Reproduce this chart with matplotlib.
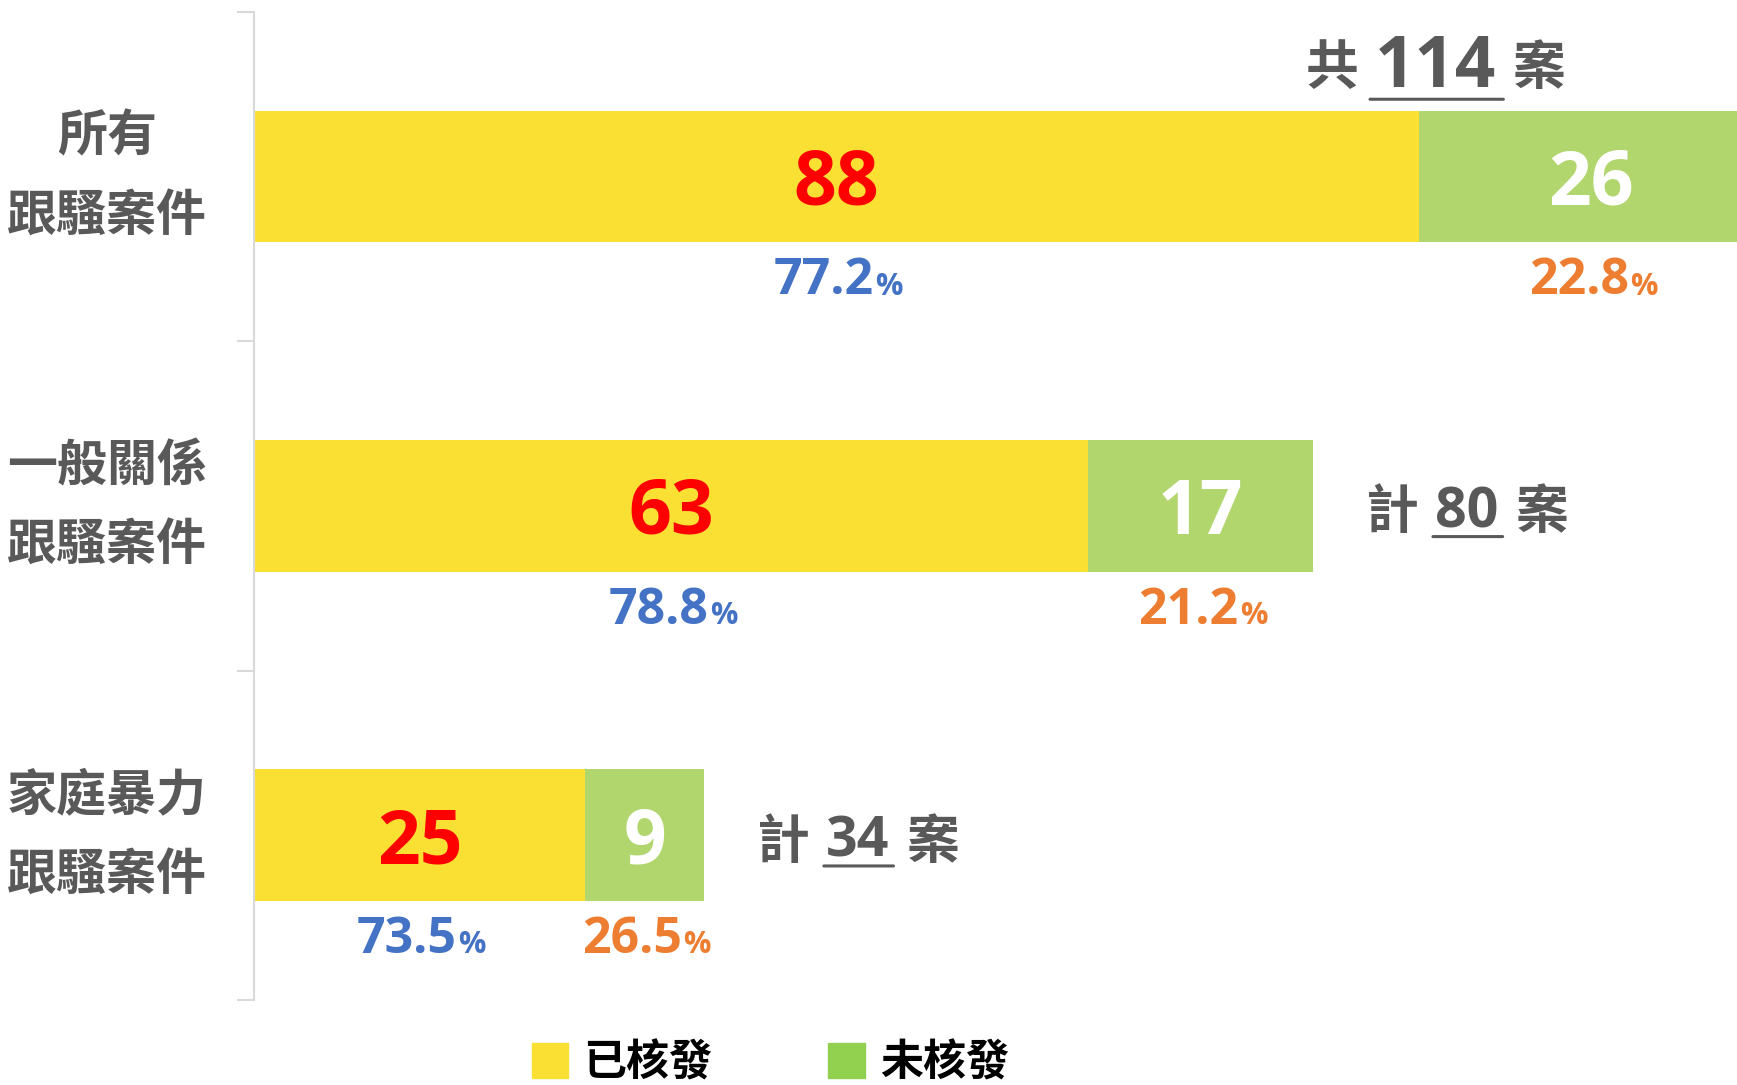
import matplotlib.pyplot as plt
from matplotlib.patches import Patch

categories = ['所有\n跟騷案件', '一般關係\n跟騷案件', '家庭暴力\n跟騷案件']
series_names = ['已核發', '未核發']
issued = [88, 63, 25]
not_issued = [26, 17, 9]
issued_pct = ['77.2', '78.8', '73.5']
not_issued_pct = ['22.8', '21.2', '26.5']
count_prefix = ['共', '計', '計']
totals = [a + b for a, b in zip(issued, not_issued)]

yellow = '#F9E033'
green = '#B2D66E'
legend_green = '#92D050'
grey = '#595959'
line_grey = '#D9D9D9'
cjk = ['Noto Sans CJK TC', 'DejaVu Sans']
num = ['Open Sans', 'Noto Sans CJK TC', 'DejaVu Sans']

plt.rcParams['font.family'] = cjk

fig = plt.figure(figsize=(17.37, 10.85), dpi=100)
ax = fig.add_axes([0.1462, 0.0783, 0.8538, 0.9107])

y = list(range(len(categories)))
ax.barh(y, issued, height=0.4, color=yellow)
ax.barh(y, not_issued, left=issued, height=0.4, color=green)

ax.set_xlim(0, 112)
ax.set_ylim(len(categories) - 0.5, -0.5)
ax.set_xticks([])
for s in ['top', 'right', 'bottom']:
    ax.spines[s].set_visible(False)
ax.spines['left'].set_color(line_grey)
ax.spines['left'].set_linewidth(1.5)

# category names centred to the left of the axis line
ax.set_yticks(y, categories, fontsize=36, fontweight='bold', color=grey,
              ha='center', va='center', multialignment='center', linespacing=1.7)
ax.tick_params(axis='y', which='major', length=0, pad=106)
ax.set_yticks([i - 0.5 for i in range(len(categories) + 1)], minor=True)
ax.tick_params(axis='y', which='minor', length=12, width=1.5, color=line_grey)


def pct_label(x, yv, s, color):
    t = ax.annotate(s, (x, yv + 0.2), xytext=(-9, -10), textcoords='offset points',
                    ha='center', va='top', fontsize=36, fontweight='bold',
                    color=color, family=num)
    ax.annotate('%', xy=(1, 0), xycoords=t, xytext=(1, 3.5), textcoords='offset points',
                ha='left', va='bottom', fontsize=22, fontweight='bold',
                color=color, family=num)


def count_label(xy, xycoords, gap, prefix, n, num_size):
    t1 = ax.annotate(prefix, xy, xycoords=xycoords, xytext=(gap, -5),
                     textcoords='offset points', ha='left', va='center',
                     fontsize=38, fontweight='bold', color=grey)
    t2 = ax.annotate(str(n), xy=(1, 0.5), xycoords=t1, xytext=(12, 0),
                     textcoords='offset points', ha='left', va='center',
                     fontsize=num_size, fontweight='bold', color=grey, family=num)
    ax.annotate('', xy=(1.06, 0.07), xycoords=t2, xytext=(-0.04, 0.07), textcoords=t2,
                arrowprops=dict(arrowstyle='-', lw=2.2, color=grey, shrinkA=0, shrinkB=0))
    ax.annotate('案', xy=(1, 0.5), xycoords=t2, xytext=(12, 0),
                textcoords='offset points', ha='left', va='center',
                fontsize=38, fontweight='bold', color=grey)


for i in y:
    ax.annotate(str(issued[i]), (issued[i] / 2, i), xytext=(0, -6),
                textcoords='offset points', ha='center', va='center',
                fontsize=54, fontweight='bold', color='#FF0000', family=num)
    ax.annotate(str(not_issued[i]), (issued[i] + not_issued[i] / 2, i), xytext=(0, -6),
                textcoords='offset points', ha='center', va='center',
                fontsize=54, fontweight='bold', color='white', family=num)
    pct_label(issued[i] / 2, i, issued_pct[i], '#4472C4')
    pct_label(issued[i] + not_issued[i] / 2, i, not_issued_pct[i], '#ED7D31')
    if i == 0:
        count_label((0.709, i - 0.35), ('axes fraction', 'data'), 0,
                    count_prefix[i], totals[i], 51)
    else:
        count_label((totals[i], i), 'data', 38, count_prefix[i], totals[i], 40)

handles = [Patch(color=yellow), Patch(color=legend_green)]
fig.legend(handles, series_names, loc='upper left', bbox_to_anchor=(0.306, 0.041),
           frameon=False, ncol=2, prop=dict(family=cjk, weight='bold', size=31),
           handlelength=0.85, handleheight=0.85, handletextpad=0.35,
           columnspacing=2.7, borderpad=0, borderaxespad=0)

fig.savefig('out.png', dpi=100)
